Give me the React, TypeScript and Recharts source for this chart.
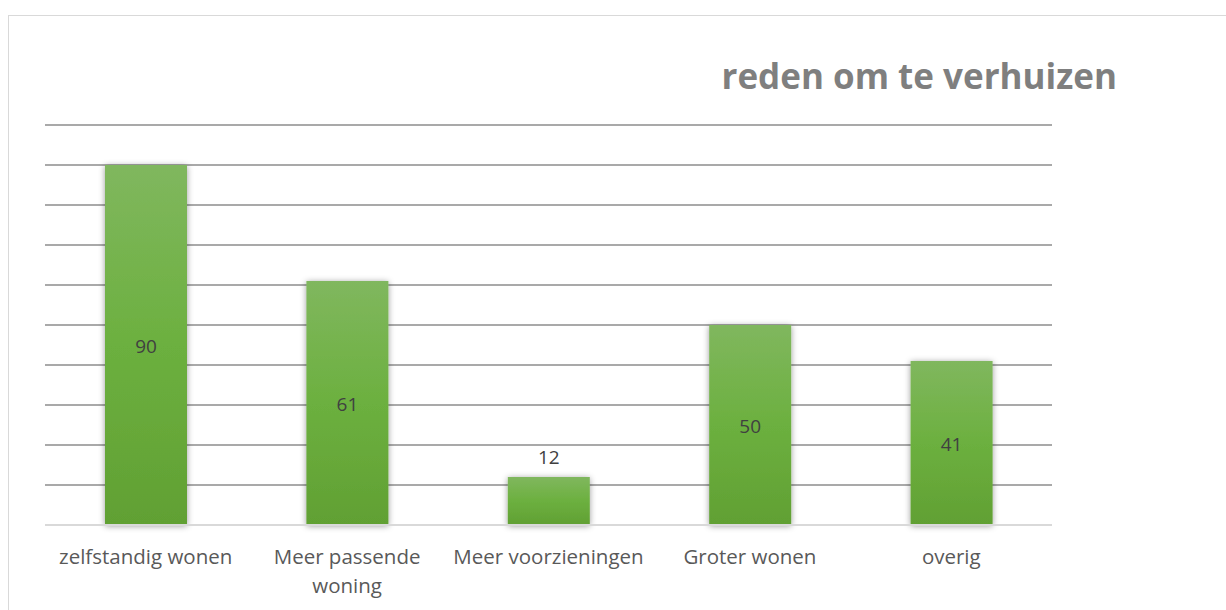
import { BarChart, Bar, XAxis, YAxis, CartesianGrid, LabelList } from "recharts";

const categories = [
  "zelfstandig wonen",
  "Meer passende woning",
  "Meer voorzieningen",
  "Groter wonen",
  "overig",
];
const counts = [90, 61, 12, 50, 41];
const yTicks = [0, 10, 20, 30, 40, 50, 60, 70, 80, 90, 100];

const data = categories.map((name, i) => ({ name, value: counts[i] }));

const FONT = "'Open Sans', sans-serif";
const TICK_SIZE = 20.5;

// greedy word wrap, measured with a canvas so it follows the real font
function wrapLabel(label: string, maxWidth: number): string[] {
  const ctx = document.createElement("canvas").getContext("2d");
  if (!ctx) return [label];
  ctx.font = `${TICK_SIZE}px ${FONT}`;
  const lines: string[] = [];
  let cur = "";
  for (const w of label.split(" ")) {
    const next = cur ? cur + " " + w : w;
    if (cur && ctx.measureText(next).width > maxWidth) {
      lines.push(cur);
      cur = w;
    } else {
      cur = next;
    }
  }
  if (cur) lines.push(cur);
  return lines;
}

function CategoryTick(props: any) {
  const { x, y, payload } = props;
  const lines = wrapLabel(String(payload.value), 196);
  return (
    <text
      x={x}
      y={y + 23}
      textAnchor="middle"
      dominantBaseline="central"
      fill="#595959"
      fontSize={TICK_SIZE}
      fontFamily={FONT}
    >
      {lines.map((ln, i) => (
        <tspan key={i} x={x} dy={i === 0 ? 0 : 29}>
          {ln}
        </tspan>
      ))}
    </text>
  );
}

function ValueLabel(props: any) {
  const { x, y, width, height, value } = props;
  const small = height < 60;
  return (
    <text
      x={x + width / 2}
      y={small ? y - 20 : y + height / 2 + 1}
      textAnchor="middle"
      dominantBaseline="central"
      fill="#404040"
      fontSize={19}
      fontFamily={FONT}
    >
      {value}
    </text>
  );
}

export default function App() {
  return (
    <div style={{ position: "absolute", left: 0, top: 0, width: 1226, height: 610, background: "#fff", overflow: "hidden" }}>
      <div
        style={{
          position: "absolute",
          left: 8,
          top: 15,
          width: 1240,
          height: 620,
          border: "1.5px solid #d9d9d9",
        }}
      />
      <div
        style={{
          position: "absolute",
          right: 109,
          top: 52,
          fontFamily: FONT,
          fontWeight: 700,
          fontSize: 35,
          color: "#7f7f7f",
          whiteSpace: "nowrap",
        }}
      >
        reden om te verhuizen
      </div>
      <div style={{ position: "absolute", left: 0, top: 0 }}>
        <BarChart
          width={1226}
          height={610}
          data={data}
          margin={{ top: 125, right: 174, bottom: 55, left: 45 }}
        >
          <defs>
            <linearGradient id="barFill" x1="0" y1="0" x2="0" y2="1">
              <stop offset="0%" stopColor="#80b75e" />
              <stop offset="50%" stopColor="#6cb03f" />
              <stop offset="100%" stopColor="#61a033" />
            </linearGradient>
            <filter id="barShadow" x="-20%" y="-20%" width="140%" height="140%">
              <feDropShadow dx="0" dy="1" stdDeviation="3" floodColor="#000" floodOpacity="0.4" />
            </filter>
          </defs>
          <CartesianGrid vertical={false} stroke="#8c8c8c" strokeWidth={1.5} />
          <XAxis
            dataKey="name"
            height={30}
            axisLine={{ stroke: "#d9d9d9", strokeWidth: 2 }}
            tickLine={false}
            tick={<CategoryTick />}
            interval={0}
          />
          <YAxis hide domain={[0, 100]} ticks={yTicks} />
          <Bar
            dataKey="value"
            barSize={82}
            fill="url(#barFill)"
            filter="url(#barShadow)"
            isAnimationActive={false}
          >
            <LabelList dataKey="value" content={<ValueLabel />} />
          </Bar>
        </BarChart>
      </div>
    </div>
  );
}
